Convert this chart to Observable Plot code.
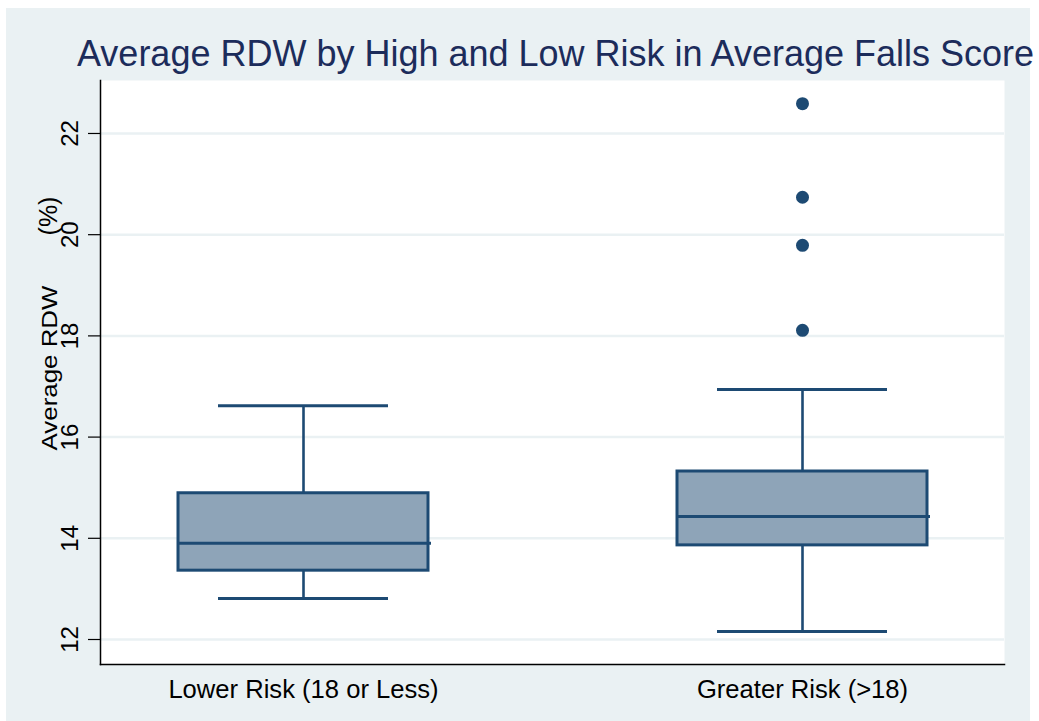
<!DOCTYPE html>
<html><head><meta charset="utf-8">
<script src="https://cdn.jsdelivr.net/npm/d3@7"></script>
<script src="https://cdn.jsdelivr.net/npm/@observablehq/plot@0.6"></script>
<style>
html,body{margin:0;padding:0;background:#fff;}
#wrap{position:relative;width:1039px;height:721px;overflow:hidden;}
#bg{position:absolute;left:6px;top:8px;width:1024px;height:713px;background:#eaf1f3;}
#chart{position:absolute;left:0;top:0;}
</style></head><body><div id="wrap"><div id="bg"></div><div id="chart"></div></div>
<script>
// ---- data ----
const groups = ["Lower Risk (18 or Less)", "Greater Risk (>18)"];
const whiskerLow = [12.81, 12.16];
const q1 = [13.36, 13.86];
const median = [13.90, 14.43];
const q3 = [14.89, 15.32];
const whiskerHigh = [16.62, 16.94];
const outlierGroup = "Greater Risk (>18)";
const outlierValues = [22.59, 20.74, 19.79, 18.11];
const yTicks = [12, 14, 16, 18, 20, 22];
const titleText = "Average RDW by High and Low Risk in Average Falls Score";
const yLabelMain = "Average RDW";
const yLabelUnit = "(%)";

// ---- tables ----
const boxes = groups.map((g, i) => ({group: g, lo: whiskerLow[i], q1: q1[i], med: median[i], q3: q3[i], hi: whiskerHigh[i]}));
const outliers = outlierValues.map(v => ({group: outlierGroup, value: v}));

const navy = "#1d4a73";
const boxFill = "#8ea4b8";
const gridColor = "#eaf1f3";
const font = "'Liberation Sans', Arial, Helvetica, sans-serif";

const plot = Plot.plot({
  width: 1039,
  height: 721,
  marginLeft: 100,
  marginRight: 35,
  marginTop: 80,
  marginBottom: 57,
  style: {background: "transparent", fontFamily: font, overflow: "visible", color: "black"},
  x: {type: "band", domain: groups, paddingInner: 0.5, paddingOuter: 0.155, axis: null},
  y: {domain: [11.506, 23.047], axis: null},
  marks: [
    Plot.frame({fill: "white", stroke: null}),
    Plot.gridY(yTicks, {stroke: gridColor, strokeOpacity: 1, strokeWidth: 2.5}),
    Plot.axisY(yTicks, {tickSize: 12, tickRotate: -90, tickPadding: 11, fontSize: 24, label: null, strokeWidth: 1.2, tickFormat: d3.format("d")}),
    Plot.axisX({tickSize: 0, tickPadding: 15, fontSize: 25.6, label: null}),
    Plot.ruleX(boxes, {x: "group", y1: "lo", y2: "q1", stroke: navy, strokeWidth: 2.6}),
    Plot.ruleX(boxes, {x: "group", y1: "q3", y2: "hi", stroke: navy, strokeWidth: 2.6}),
    Plot.tickY(boxes, {x: "group", y: "lo", stroke: navy, strokeWidth: 3, insetLeft: 40, insetRight: 40}),
    Plot.tickY(boxes, {x: "group", y: "hi", stroke: navy, strokeWidth: 3, insetLeft: 40, insetRight: 40}),
    Plot.barY(boxes, {x: "group", y1: "q1", y2: "q3", fill: boxFill, stroke: navy, strokeWidth: 3}),
    Plot.tickY(boxes, {x: "group", y: "med", stroke: navy, strokeWidth: 3, insetRight: -3}),
    Plot.dot(outliers, {x: "group", y: "value", r: 6.5, fill: navy, stroke: null}),
    Plot.frame({anchor: "left", stroke: "black", strokeWidth: 1.5}),
    Plot.frame({anchor: "bottom", stroke: "black", strokeWidth: 1.5})
  ]
});

document.getElementById("chart").appendChild(plot);

const svg = d3.select(plot);
svg.append("text")
  .attr("x", 77).attr("y", 66)
  .attr("text-anchor", "start")
  .attr("font-family", font).attr("font-size", 36)
  .attr("fill", "#1c2c5b")
  .text(titleText);

svg.append("text")
  .attr("transform", "translate(57,368) rotate(-90)")
  .attr("text-anchor", "middle")
  .attr("font-family", font).attr("font-size", 22)
  .attr("textLength", 165).attr("lengthAdjust", "spacingAndGlyphs")
  .attr("fill", "black")
  .text(yLabelMain);

svg.append("text")
  .attr("transform", "translate(57,216) rotate(-90)")
  .attr("text-anchor", "middle")
  .attr("font-family", font).attr("font-size", 25)
  .attr("fill", "black")
  .text(yLabelUnit);
</script></body></html>
